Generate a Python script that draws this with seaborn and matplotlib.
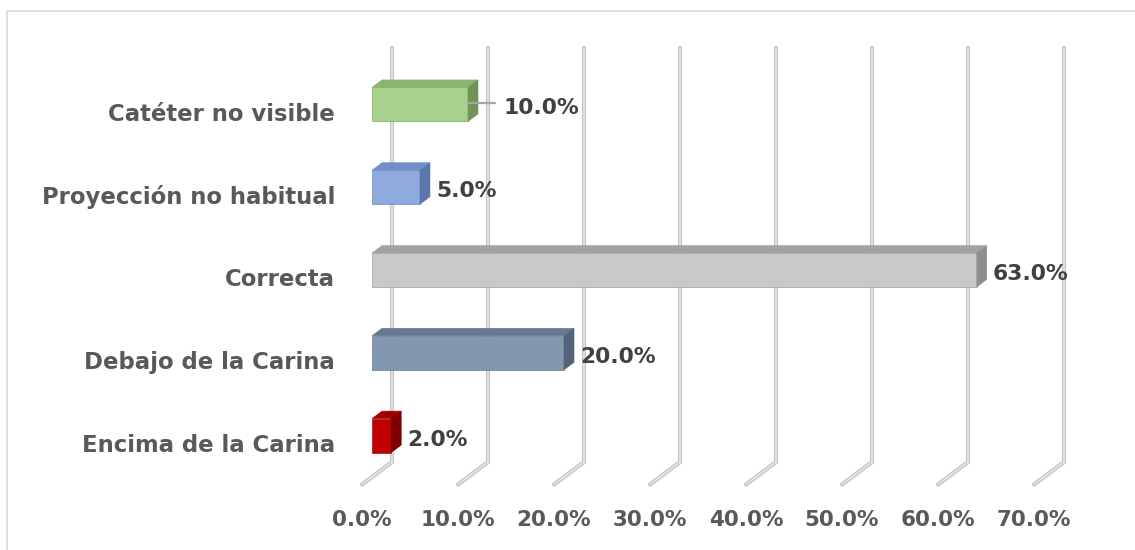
import matplotlib
matplotlib.use("Agg")
import matplotlib.pyplot as plt
from matplotlib.patches import Polygon, Rectangle
import pandas as pd
import seaborn as sns

# Distribution of catheter tip position
categories = [
    "Catéter no visible",
    "Proyección no habitual",
    "Correcta",
    "Debajo de la Carina",
    "Encima de la Carina",
]
percent = [10.0, 5.0, 63.0, 20.0, 2.0]
tick_values = [0, 10, 20, 30, 40, 50, 60, 70]
tick_labels = [f"{v:.1f}%" for v in tick_values]

front_colors = ["#A9D18E", "#8FAADC", "#C9C9C9", "#8497B0", "#C00000"]
top_colors = ["#8CB371", "#7290C6", "#A2A2A2", "#66788F", "#A30000"]
side_colors = ["#6F9455", "#5B76AA", "#8E8E8E", "#52627A", "#7E0000"]

sns.set_style("white")
plt.rcParams["font.family"] = ["DejaVu Sans"]

W, H, DPI = 1135, 550, 100
fig = plt.figure(figsize=(W / DPI, H / DPI), dpi=DPI)
fig.patch.set_facecolor("white")
ax = fig.add_axes([372 / W, 73 / H, 672 / W, 414 / H])

df = pd.DataFrame({"categoria": categories, "porcentaje": percent})
sns.barplot(
    data=df, x="porcentaje", y="categoria", hue="categoria",
    palette=front_colors, saturation=1, width=0.41, legend=False,
    ax=ax, zorder=3,
)

ax.set_xlim(0, 70)
ax.set_ylim(4.5, -0.5)
ax.set_axis_off()

# pseudo-3D depth offsets, in pixels (x right, y up)
DEPTH = (10, 7.5)    # thickness of each bar
WALL = (20, 15)      # back wall carrying the gridlines
FLOOR = (-10, -7.5)  # front edge of the floor


def shifted(x, y, dx, dy):
    px, py = ax.transData.transform((x, y))
    return ax.transData.inverted().transform((px + dx, py + dy))


# gridlines on the back wall, folding down onto the floor
for v in tick_values:
    top = shifted(v, -0.5, *WALL)
    bottom = shifted(v, 4.5, *WALL)
    front = shifted(v, 4.5, *FLOOR)
    xs = [top[0], bottom[0], front[0]]
    ys = [top[1], bottom[1], front[1]]
    ax.plot(xs, ys, color="#C4C4C4", lw=3.0, solid_capstyle="round",
            solid_joinstyle="round", clip_on=False, zorder=1)
    ax.plot(xs, ys, color="#E8E8E8", lw=1.1, solid_capstyle="round",
            solid_joinstyle="round", clip_on=False, zorder=1.1)

# top and side faces of each bar
bars = sorted(ax.patches, key=lambda p: p.get_y())
for patch, top_c, side_c, front_c in zip(bars, top_colors, side_colors, front_colors):
    x0, w = patch.get_x(), patch.get_width()
    y0, h = patch.get_y(), patch.get_height()
    x1, y1 = x0 + w, y0 + h
    patch.set_edgecolor(side_c)
    patch.set_linewidth(0.4)
    top_face = [(x0, y0), (x1, y0), tuple(shifted(x1, y0, *DEPTH)), tuple(shifted(x0, y0, *DEPTH))]
    side_face = [(x1, y1), (x1, y0), tuple(shifted(x1, y0, *DEPTH)), tuple(shifted(x1, y1, *DEPTH))]
    ax.add_patch(Polygon(top_face, closed=True, facecolor=top_c, edgecolor=top_c,
                         lw=0.4, zorder=3, clip_on=False))
    ax.add_patch(Polygon(side_face, closed=True, facecolor=side_c, edgecolor=side_c,
                         lw=0.4, zorder=3, clip_on=False))

# value labels next to the bars
for i, (cat, v) in enumerate(zip(categories, percent)):
    if i == 0:
        a = shifted(v, i, 0, 1)
        b = shifted(v, i, 27, 1)
        ax.plot([a[0], b[0]], [a[1], b[1]], color="#A6A6A6", lw=1.6,
                zorder=4, clip_on=False)
        dx = 35
    else:
        dx = 16
    ax.annotate(f"{v:.1f}%", xy=(v, i), xytext=(dx, -10),
                textcoords="offset pixels", ha="left", va="baseline",
                fontsize=15.7, fontweight="bold", color="#404040",
                annotation_clip=False, zorder=5)

# category labels on the left
for i, cat in enumerate(categories):
    ax.annotate(cat, xy=(0, i), xytext=(-37, -16.5),
                textcoords="offset pixels", ha="right", va="baseline",
                fontsize=16.4, fontweight="bold", color="#595959",
                annotation_clip=False)

# value axis labels under the floor
for v, lab in zip(tick_values, tick_labels):
    ax.annotate(lab, xy=(v, 4.5), xytext=(-10, -49.5),
                textcoords="offset pixels", ha="center", va="baseline",
                fontsize=15.5, fontweight="bold", color="#595959",
                annotation_clip=False)

# chart area frame
fig.add_artist(Rectangle((7 / W, -0.1), 1.2, (H - 11) / H + 0.1,
                         transform=fig.transFigure, fill=False,
                         edgecolor="#D9D9D9", lw=1.2))

fig.savefig("out.png", dpi=DPI)
